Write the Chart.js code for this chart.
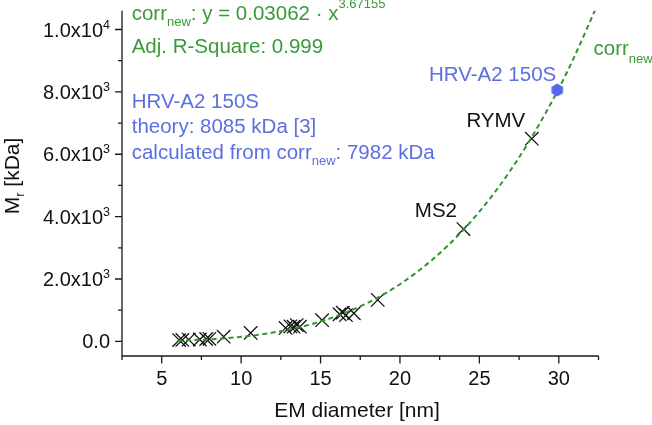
<!DOCTYPE html>
<html><head><meta charset="utf-8">
<script src="https://cdn.jsdelivr.net/npm/chart.js@4.4.1/dist/chart.umd.min.js"></script>
<style>html,body{margin:0;padding:0;background:#fff}</style>
</head><body>
<canvas id="c" width="652" height="425" style="width:652px;height:425px;display:block"></canvas>
<script>
const FONT = '"Liberation Sans", Arial, sans-serif';
const GREEN = '#3a9a3a';
const BLUE = '#5b6fe0';
const HEX_COLOR = '#5468ec';
const ANN = 20.5; // annotation font size

// Measured virus samples (EM diameter nm, Mr kDa)
const diameters = [6.1, 6.3, 6.7, 7.4, 7.8, 8.0, 8.9, 10.6, 12.8, 13.1, 13.3, 13.5, 13.7, 15.1, 16.2, 16.4, 16.6, 17.1, 18.6, 24.0, 28.3];
const masses    = [40, 45, 55, 60, 75, 80, 150, 270, 430, 480, 470, 520, 470, 680, 870, 920, 840, 900, 1330, 3600, 6500];
const sampleNames = {19: 'MS2', 20: 'RYMV'};
// Fit curve corr_new
const fitDiameters = [6, 8, 10, 12, 14, 16, 18, 20, 22, 24, 26, 28, 30, 31, 32.35];
const fitMasses    = [22, 63, 144, 281, 494, 807, 1244, 1832, 2601, 3580, 4801, 6302, 8105, 9153, 10700];
// HRV-A2 150S
const hrvDiameter = [29.9];
const hrvMass = [8060];
// Axis ticks
const xMajorTicks = [5, 10, 15, 20, 25, 30];
const xMinorTicks = [2.5, 7.5, 12.5, 17.5, 22.5, 27.5, 32.5];
const yMajorTicks = [0, 2000, 4000, 6000, 8000, 10000];
const yMinorTicks = [1000, 3000, 5000, 7000, 9000];
const yTickBase = ['0.0', '2.0x10', '4.0x10', '6.0x10', '8.0x10', '1.0x10'];
const yTickExp  = ['', '3', '3', '3', '3', '4'];

function zip(xs, ys) { return xs.map((x, i) => ({x: x, y: ys[i]})); }

// hexagon marker
const hex = document.createElement('canvas');
hex.width = 16; hex.height = 16;
(function(){
  const g = hex.getContext('2d');
  g.fillStyle = HEX_COLOR;
  g.beginPath();
  for (let i = 0; i < 6; i++) {
    const a = Math.PI / 6 + i * Math.PI / 3;
    const px = 8 + 6.6 * Math.cos(a), py = 8 + 6.6 * Math.sin(a);
    if (i === 0) g.moveTo(px, py); else g.lineTo(px, py);
  }
  g.closePath(); g.fill();
})();

function runs(ctx, x, y, parts, align) {
  // parts: [text, size, dy]
  let total = 0;
  parts.forEach(p => { ctx.font = p[1] + 'px ' + FONT; total += ctx.measureText(p[0]).width; });
  let cx = align === 'right' ? x - total : (align === 'center' ? x - total / 2 : x);
  ctx.textAlign = 'left';
  ctx.textBaseline = 'alphabetic';
  parts.forEach(p => {
    ctx.font = p[1] + 'px ' + FONT;
    ctx.fillText(p[0], cx, y + (p[2] || 0));
    cx += ctx.measureText(p[0]).width;
  });
}

const decor = {
  id: 'decor',
  afterDraw(chart) {
    const ctx = chart.ctx;
    const xs = chart.scales.x, ys = chart.scales.y;
    const a = chart.chartArea;
    ctx.save();
    // axes
    ctx.strokeStyle = '#1a1a1a';
    ctx.lineWidth = 1.3;
    ctx.beginPath();
    ctx.moveTo(a.left, a.top); ctx.lineTo(a.left, a.bottom);
    ctx.moveTo(a.left - 0.6, a.bottom); ctx.lineTo(a.right, a.bottom);
    ctx.stroke();
    ctx.beginPath();
    xMajorTicks.forEach(v => { const p = xs.getPixelForValue(v); ctx.moveTo(p, a.bottom); ctx.lineTo(p, a.bottom + 7.5); });
    xMinorTicks.forEach(v => { const p = xs.getPixelForValue(v); ctx.moveTo(p, a.bottom); ctx.lineTo(p, a.bottom + 4); });
    yMajorTicks.forEach(v => { const p = ys.getPixelForValue(v); ctx.moveTo(a.left, p); ctx.lineTo(a.left - 7, p); });
    yMinorTicks.forEach(v => { const p = ys.getPixelForValue(v); ctx.moveTo(a.left, p); ctx.lineTo(a.left - 4, p); });
    ctx.stroke();
    // tick labels
    ctx.fillStyle = '#111';
    xMajorTicks.forEach(v => { runs(ctx, xs.getPixelForValue(v), a.bottom + 29, [[String(v), 20, 0]], 'center'); });
    yMajorTicks.forEach((v, i) => {
      const p = ys.getPixelForValue(v);
      const parts = [[yTickBase[i], 20, 0]];
      if (yTickExp[i]) parts.push([yTickExp[i], 12.5, -8]);
      runs(ctx, a.left - 12, p + 7, parts, 'right');
    });
    // axis titles
    runs(ctx, 357, 417, [['EM diameter [nm]', 21, 0]], 'center');
    ctx.save();
    ctx.translate(19, 176);
    ctx.rotate(-Math.PI / 2);
    runs(ctx, 0, 0, [['M', 21, 0], ['r', 13, 5], [' [kDa]', 21, 0]], 'center');
    ctx.restore();
    // annotations
    ctx.fillStyle = GREEN;
    runs(ctx, a.left + 9.7, 20, [['corr', ANN, 0], ['new', 13, 6], [': y = 0.03062 \u00b7 x', ANN, 0], ['3.67155', 13, -12]]);
    runs(ctx, a.left + 9.7, 53, [['Adj. R-Square: 0.999', ANN, 0]]);
    runs(ctx, a.right - 5, 55, [['corr', ANN, 0], ['new', 13, 8]]);
    ctx.fillStyle = BLUE;
    runs(ctx, a.left + 9.7, 108, [['HRV-A2 150S', ANN, 0]]);
    runs(ctx, a.left + 9.7, 133, [['theory: 8085 kDa [3]', ANN, 0]]);
    runs(ctx, a.left + 9.7, 159, [['calculated from corr', ANN, 0], ['new', 13, 6], [': 7982 kDa', ANN, 0]]);
    const hx = xs.getPixelForValue(hrvDiameter[0]), hy = ys.getPixelForValue(hrvMass[0]);
    runs(ctx, hx - 1, hy - 9, [['HRV-A2 150S', ANN, 0]], 'right');
    ctx.fillStyle = '#111';
    Object.keys(sampleNames).forEach(k => {
      const px = xs.getPixelForValue(diameters[k]), py = ys.getPixelForValue(masses[k]);
      runs(ctx, px - 6.5, py - 12, [[sampleNames[k], ANN, 0]], 'right');
    });
    ctx.restore();
  }
};

new Chart(document.getElementById('c'), {
  type: 'scatter',
  data: {
    datasets: [
      { data: zip(hrvDiameter, hrvMass), pointStyle: hex, pointRadius: 8, showLine: false },
      { data: zip(fitDiameters, fitMasses), showLine: true, borderColor: '#2f962f', borderWidth: 2,
        borderDash: [5, 3.5], pointRadius: 0, cubicInterpolationMode: 'monotone', fill: false },
      { data: zip(diameters, masses), pointStyle: 'crossRot', pointRadius: 9.5, borderColor: '#111',
        backgroundColor: '#111', pointBorderWidth: 1.3, borderWidth: 1.3, showLine: false }
    ]
  },
  options: {
    responsive: false,
    animation: false,
    devicePixelRatio: 1,
    layout: { padding: { left: 122, right: 53.5, top: 0, bottom: 69 } },
    plugins: { legend: { display: false }, tooltip: { enabled: false } },
    scales: {
      x: { type: 'linear', min: 2.5, max: 32.5, display: false },
      y: { type: 'linear', min: -470, max: 10600, display: false }
    }
  },
  plugins: [decor]
});
</script>
</body></html>
